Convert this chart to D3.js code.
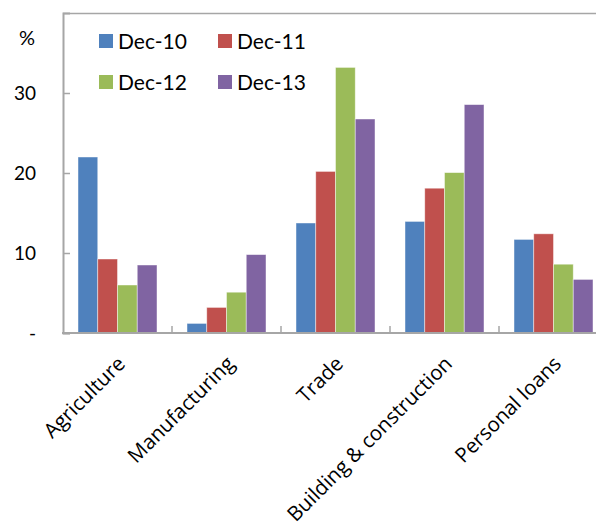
<!DOCTYPE html>
<html>
<head>
<meta charset="utf-8">
<script src="https://cdn.jsdelivr.net/npm/d3@7"></script>
<style>
  html, body { margin: 0; padding: 0; background: #fff; }
  svg { display: block; font-family: Lato, "Open Sans", sans-serif; }
</style>
</head>
<body>
<svg id="chart" width="596" height="524"></svg>
<script>
// Loan growth by sector, % (year-end)
const categories = ["Agriculture", "Manufacturing", "Trade", "Building & construction", "Personal loans"];
const seriesNames = ["Dec-10", "Dec-11", "Dec-12", "Dec-13"];
const dec10 = [22.0, 1.2, 13.75, 13.95, 11.7];
const dec11 = [9.25, 3.2, 20.2, 18.1, 12.4];
const dec12 = [6.0, 5.1, 33.2, 20.05, 8.6];
const dec13 = [8.5, 9.8, 26.75, 28.55, 6.7];
const yTicks = [0, 10, 20, 30];
const yTickLabels = ["-", "10", "20", "30"];
const colors = ["#4F81BD", "#C0504D", "#9BBB59", "#8064A2"];

const seriesValues = [dec10, dec11, dec12, dec13];

const svg = d3.select("#chart");
const plot = { left: 63, right: 608, top: 13, bottom: 333 };

const x0 = d3.scaleBand().domain(categories).range([plot.left, plot.right]).paddingInner(0);
const x1 = d3.scaleBand().domain(seriesNames).range([0, x0.bandwidth()]).paddingInner(0).paddingOuter(0.76);
const y = d3.scaleLinear().domain([0, 40]).range([plot.bottom, plot.top]);
const color = d3.scaleOrdinal().domain(seriesNames).range(colors);

const axisColor = "#A6A6A6";

// plot frame (top edge)
svg.append("line")
  .attr("x1", plot.left).attr("x2", plot.right)
  .attr("y1", plot.top + 0.5).attr("y2", plot.top + 0.5)
  .attr("stroke", axisColor).attr("stroke-width", 1.5);

// bars
const rows = categories.map((c, i) => ({ category: c, values: seriesNames.map((s, j) => ({ series: s, value: seriesValues[j][i] })) }));
const groups = svg.append("g").selectAll("g").data(rows).join("g")
  .attr("transform", d => `translate(${x0(d.category)},0)`);
groups.selectAll("rect").data(d => d.values).join("rect")
  .attr("x", d => x1(d.series))
  .attr("y", d => y(d.value))
  .attr("width", x1.bandwidth())
  .attr("height", d => y(0) - y(d.value))
  .attr("fill", d => color(d.series))
  .attr("stroke", "rgba(255,255,255,0.55)")
  .attr("stroke-width", 0.8);

// y axis (ticks drawn inward)
const yAxis = d3.axisLeft(y).tickValues(yTicks).tickSize(-7).tickFormat((d, i) => yTickLabels[i]);
const gy = svg.append("g").attr("transform", `translate(${plot.left},0)`).call(yAxis);
gy.select(".domain").attr("stroke", axisColor).attr("stroke-width", 2);
gy.selectAll(".tick line").attr("stroke", axisColor).attr("stroke-width", 1.5);
gy.selectAll(".tick text")
  .attr("x", -27).attr("text-anchor", "end")
  .attr("fill", "#000").attr("font-size", 19).attr("font-family", "Lato, sans-serif");

// x axis: category boundary ticks pointing up
svg.append("line")
  .attr("x1", plot.left - 1).attr("x2", plot.right)
  .attr("y1", plot.bottom).attr("y2", plot.bottom)
  .attr("stroke", axisColor).attr("stroke-width", 2);
svg.append("g").selectAll("line").data(categories.slice(1)).join("line")
  .attr("x1", d => x0(d)).attr("x2", d => x0(d))
  .attr("y1", plot.bottom).attr("y2", plot.bottom - 7)
  .attr("stroke", axisColor).attr("stroke-width", 1.5);

// rotated category labels
svg.append("g").selectAll("text").data(categories).join("text")
  .attr("transform", d => `translate(${x0(d) + x0.bandwidth() / 2 + 9},${plot.bottom + 32}) rotate(-45)`)
  .attr("text-anchor", "end")
  .attr("font-size", 20.5)
  .attr("font-family", "'Open Sans', sans-serif")
  .attr("fill", "#000")
  .text(d => d);

// unit label
svg.append("text").attr("x", 27).attr("y", 45).attr("text-anchor", "middle")
  .attr("font-size", 20).attr("fill", "#000").text("%");

// legend, two columns
const legend = svg.append("g").selectAll("g").data(seriesNames).join("g")
  .attr("transform", (d, i) => `translate(${99 + (i % 2) * 119},${34 + Math.floor(i / 2) * 41})`);
legend.append("rect").attr("width", 14).attr("height", 14).attr("fill", d => color(d));
legend.append("text").attr("x", 19).attr("y", 14.5)
  .attr("font-size", 21).attr("fill", "#000").text(d => d);
</script>
</body>
</html>
